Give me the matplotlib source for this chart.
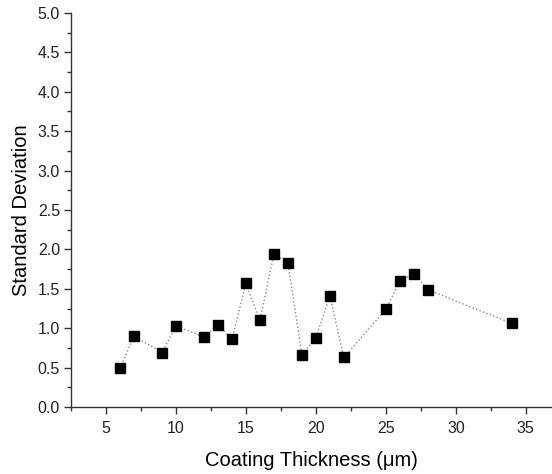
import matplotlib
matplotlib.use("Agg")
import matplotlib.pyplot as plt
from matplotlib.ticker import MultipleLocator

plt.rcParams['font.family'] = ['Liberation Sans', 'DejaVu Sans']

thickness = [6, 7, 9, 10, 12, 13, 14, 15, 16, 17, 18, 19, 20, 21, 22, 25, 26, 27, 28, 34]
std_dev = [0.49, 0.90, 0.69, 1.03, 0.89, 1.04, 0.86, 1.57, 1.10, 1.94, 1.83,
           0.66, 0.88, 1.41, 0.63, 1.24, 1.60, 1.69, 1.49, 1.06]

fig = plt.figure(figsize=(5.52, 4.74), dpi=100)
ax = fig.add_axes([71/552, 1-407/474, (551-71)/552, (407-13)/474])

ax.plot(thickness, std_dev, linestyle=':', color='#888888', linewidth=1.0,
        marker='s', markersize=6.5, markerfacecolor='black', markeredgecolor='black')

ax.set_xlim(2.5, 36.8)
ax.set_ylim(0, 5.0)
ax.xaxis.set_major_locator(MultipleLocator(5))
ax.xaxis.set_minor_locator(MultipleLocator(2.5))
ax.yaxis.set_minor_locator(MultipleLocator(0.25))
ax.set_yticks([i * 0.5 for i in range(11)])
ax.set_yticklabels([f"{i*0.5:.1f}" for i in range(11)])

for s in ['top', 'right']:
    ax.spines[s].set_visible(False)
for s in ['left', 'bottom']:
    ax.spines[s].set_color('#333333')
    ax.spines[s].set_linewidth(1.0)

ax.tick_params(which='major', direction='out', length=5, width=1, colors='#333333',
               labelsize=11.5, labelcolor='#222222', pad=3)
ax.tick_params(axis='x', which='major', pad=5)
ax.tick_params(which='minor', direction='out', length=3, width=1, colors='#333333')

ax.set_xlabel('Coating Thickness (μm)', fontsize=14.5, labelpad=11)
ax.set_ylabel('Standard Deviation', fontsize=14.5, labelpad=5)

fig.savefig('out.png', dpi=100)
